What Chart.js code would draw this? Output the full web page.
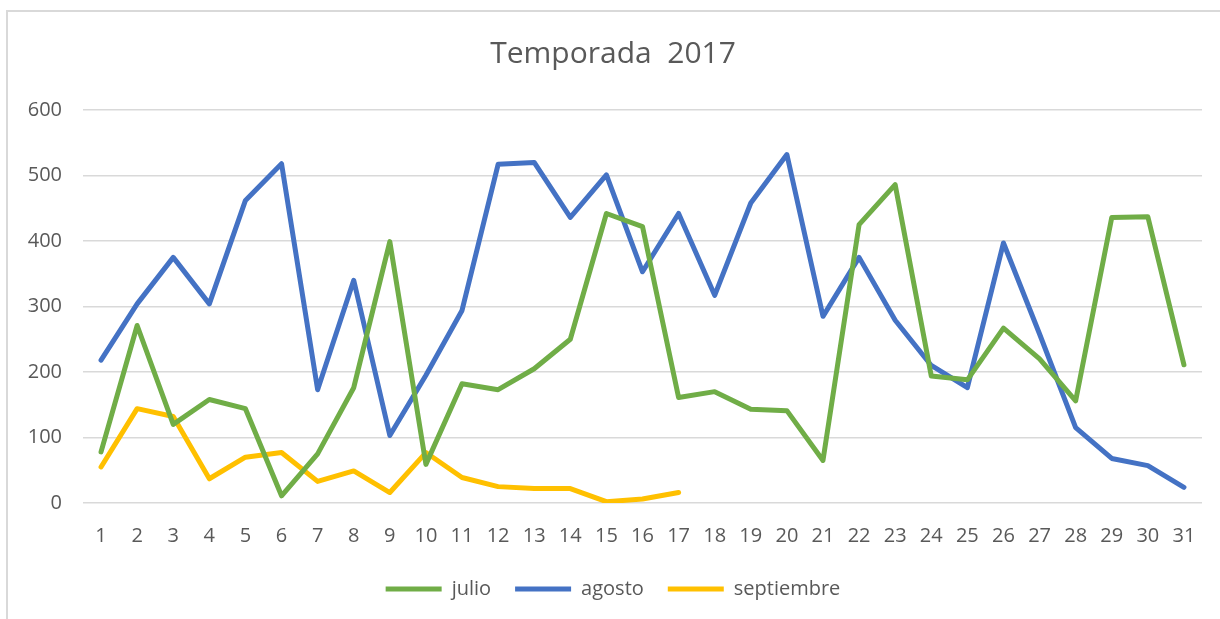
<!DOCTYPE html>
<html>
<head>
<meta charset="utf-8">
<title>Temporada 2017</title>
<script src="https://cdn.jsdelivr.net/npm/chart.js@4"></script>
<style>
    html, body { margin: 0; padding: 0; background: #fff; }
    #wrap { position: relative; width: 1220px; height: 619px; overflow: hidden; }
    #frame { position: absolute; left: 6px; top: 10px; width: 1300px; height: 700px; border: 2px solid #d9d9d9; box-sizing: border-box; }
    #chart { position: absolute; left: 0; top: 0; }
</style>
</head>
<body>
<div id="wrap">
    <div id="frame"></div>
    <canvas id="chart" width="1220" height="619"></canvas>
</div>
<script>
// chart data
var days = ['1', '2', '3', '4', '5', '6', '7', '8', '9', '10', '11', '12', '13', '14', '15', '16',
            '17', '18', '19', '20', '21', '22', '23', '24', '25', '26', '27', '28', '29', '30', '31'];
var julio = [78, 271, 120, 158, 144, 11, 75, 176, 399, 59, 182, 173, 205, 250, 442, 422,
             161, 170, 143, 141, 65, 425, 486, 194, 188, 267, 220, 156, 436, 437, 211];
var agosto = [218, 304, 375, 304, 462, 518, 173, 340, 103, 195, 294, 517, 520, 436, 501, 353,
              442, 317, 458, 532, 285, 375, 279, 210, 176, 397, 258, 115, 68, 57, 24];
var septiembre = [55, 144, 132, 37, 70, 77, 33, 49, 16, 77, 39, 25, 22, 22, 2, 6, 16];
var yTicks = [0, 100, 200, 300, 400, 500, 600];

var textColor = '#595959';
var gridColor = '#d9d9d9';

function lineSet(label, values, color) {
    return {
        label: label,
        data: values,
        borderColor: color,
        backgroundColor: color,
        borderWidth: 5,
        borderJoinStyle: 'round',
        borderCapStyle: 'round',
        pointRadius: 0,
        pointHoverRadius: 0,
        tension: 0,
        fill: false
    };
}

new Chart(document.getElementById('chart').getContext('2d'), {
    type: 'line',
    data: {
        labels: days,
        datasets: [
            lineSet('julio', julio, '#70ad47'),
            lineSet('agosto', agosto, '#4472c4'),
            lineSet('septiembre', septiembre, '#ffc000')
        ]
    },
    options: {
        responsive: false,
        animation: false,
        maintainAspectRatio: false,
        layout: { padding: { left: 24, right: 18, top: 0, bottom: 10 } },
        plugins: {
            title: {
                display: true,
                text: 'Temporada  2017',
                color: textColor,
                font: { family: 'Open Sans', size: 30, weight: 'normal' },
                padding: { top: 36, bottom: 38 }
            },
            legend: {
                position: 'bottom',
                labels: {
                    color: textColor,
                    font: { family: 'Open Sans', size: 20 },
                    boxWidth: 56,
                    boxHeight: 5,
                    padding: 24,
                    generateLabels: function(chart) {
                        var items = Chart.defaults.plugins.legend.labels.generateLabels(chart);
                        items.forEach(function(it) {
                            it.fillStyle = it.strokeStyle;
                            it.lineWidth = 0;
                        });
                        return items;
                    }
                }
            },
            tooltip: { enabled: false }
        },
        scales: {
            x: {
                offset: true,
                afterFit: function(scale) { scale.height = 52; },
                grid: { display: false },
                border: { display: false },
                ticks: {
                    color: textColor,
                    font: { family: 'Open Sans', size: 20 },
                    padding: 13,
                    maxRotation: 0,
                    autoSkip: false
                }
            },
            y: {
                min: 0,
                max: 600,
                afterFit: function(scale) { scale.width = 59; },
                afterBuildTicks: function(scale) {
                    scale.ticks = yTicks.map(function(v) { return { value: v }; });
                },
                grid: { color: gridColor, lineWidth: 1.5, drawTicks: false },
                border: { display: false },
                ticks: {
                    color: textColor,
                    font: { family: 'Open Sans', size: 20 },
                    padding: 21
                }
            }
        }
    }
});
</script>
</body>
</html>
